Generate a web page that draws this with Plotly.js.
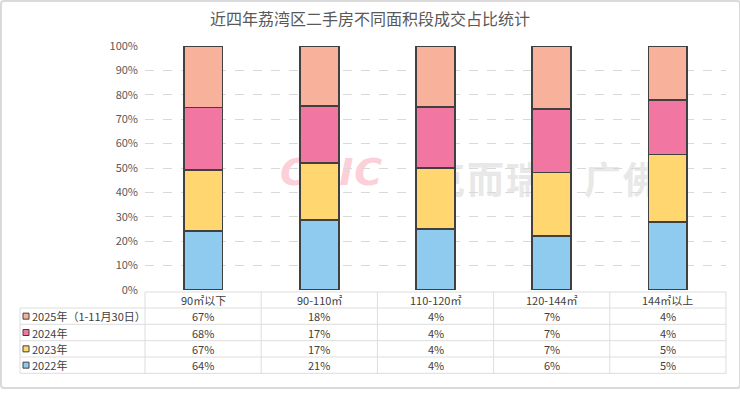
<!DOCTYPE html>
<html>
<head>
<meta charset="utf-8">
<script src="https://cdn.plot.ly/plotly-3.0.1.min.js"></script>
<style>
html,body{margin:0;padding:0;background:#fff;}
#wrap{position:relative;width:740px;height:395px;overflow:hidden;background:#fff;}
#wm{position:absolute;left:0;top:0;width:740px;height:395px;z-index:0;}
#chart{position:absolute;left:0;top:0;width:740px;height:395px;z-index:1;}
#frame{position:absolute;left:0;top:0;width:737px;height:385px;border:2px solid #DADADA;border-radius:4px;z-index:2;pointer-events:none;}
.wm1{position:absolute;left:280px;top:150px;font-family:"DejaVu Sans",sans-serif;font-weight:bold;font-style:italic;font-size:38px;color:#FBD0D8;letter-spacing:1px;}
.wm2{position:absolute;left:428px;top:151px;font-family:"Noto Sans CJK SC",sans-serif;font-weight:bold;font-size:37px;color:#E8E8E8;letter-spacing:2px;}
</style>
</head>
<body>
<div id="wrap">
  <div id="wm"><span class="wm1">CRIC</span><span class="wm2">克而瑞·广佛</span></div>
  <div id="chart"></div>
  <div id="frame"></div>
</div>
<script>
// ---- data ----
var categories = ['90㎡以下', '90-110㎡', '110-120㎡', '120-144㎡', '144㎡以上'];
var seriesNames = ['2022年', '2023年', '2024年', '2025年（1-11月30日）'];
var v2022 = [64, 21, 4, 6, 5];
var v2023 = [67, 17, 4, 7, 5];
var v2024 = [68, 17, 4, 7, 4];
var v2025 = [67, 18, 4, 7, 4];
var yTickVals = [0, 10, 20, 30, 40, 50, 60, 70, 80, 90, 100];
var yTickText = ['0%', '10%', '20%', '30%', '40%', '50%', '60%', '70%', '80%', '90%', '100%'];
var titleText = '近四年荔湾区二手房不同面积段成交占比统计';

// ---- styles ----
var colors = ['#8FCBEE', '#FFD66F', '#F176A1', '#F8B19B'];
var seriesValues = [v2022, v2023, v2024, v2025];

var L = 145, R = 14, T = 46, B = 105, W = 740, H = 395;
var pw = W - L - R, ph = H - T - B;
function px(x) { return (x - L) / pw; }
function py(y) { return (H - B - y) / ph; }

var traces = seriesNames.map(function (n, i) {
  return {
    type: 'bar', name: n, x: categories, y: seriesValues[i],
    width: 0.335,
    marker: { color: colors[i], line: { color: '#404040', width: 1.8 } },
    hoverinfo: 'none'
  };
});

var shapes = [];
var annotations = [];
var lineC = '#DDDDDD';
// table geometry (pixels)
var rowLines = [292, 308, 324.3, 340.7, 357, 373.3];
var colLeft = 20, tabRight = 726;
shapes.push({ type: 'line', xref: 'paper', yref: 'paper', x0: px(L), x1: px(tabRight), y0: py(rowLines[0]), y1: py(rowLines[0]), line: { color: lineC, width: 1 } });
for (var i = 1; i < rowLines.length; i++) {
  shapes.push({ type: 'line', xref: 'paper', yref: 'paper', x0: px(colLeft), x1: px(tabRight), y0: py(rowLines[i]), y1: py(rowLines[i]), line: { color: lineC, width: 1 } });
}
var colW = (tabRight - L) / categories.length;
shapes.push({ type: 'line', xref: 'paper', yref: 'paper', x0: px(colLeft), x1: px(colLeft), y0: py(rowLines[1]), y1: py(rowLines[5]), line: { color: lineC, width: 1 } });
for (var c = 0; c <= categories.length; c++) {
  var xx = L + c * colW;
  shapes.push({ type: 'line', xref: 'paper', yref: 'paper', x0: px(xx), x1: px(xx), y0: py(rowLines[0]), y1: py(rowLines[5]), line: { color: lineC, width: 1 } });
}
var tFont = { family: '"Noto Sans CJK SC", "Noto Sans", sans-serif', size: 11, color: '#404040' };
categories.forEach(function (cat, c) {
  annotations.push({ xref: 'x', yref: 'paper', x: cat, y: py((rowLines[0] + rowLines[1]) / 2), text: cat, showarrow: false, font: tFont, xanchor: 'center', yanchor: 'middle' });
});
for (var r = 0; r < 4; r++) {
  var si = 3 - r;
  var yc = (rowLines[r + 1] + rowLines[r + 2]) / 2;
  shapes.push({ type: 'rect', xref: 'paper', yref: 'paper', x0: px(23), x1: px(29), y0: py(yc + 3), y1: py(yc - 3), fillcolor: colors[si], line: { color: '#404040', width: 1 } });
  annotations.push({ xref: 'paper', yref: 'paper', x: px(29.5), y: py(yc), text: seriesNames[si], showarrow: false, font: tFont, xanchor: 'left', yanchor: 'middle' });
  categories.forEach(function (cat, c) {
    annotations.push({ xref: 'x', yref: 'paper', x: cat, y: py(yc), text: seriesValues[si][c] + '%', showarrow: false, font: tFont, xanchor: 'center', yanchor: 'middle' });
  });
}

var layout = {
  width: W, height: H,
  margin: { l: L, r: R, t: T, b: B, pad: 0 },
  paper_bgcolor: 'rgba(0,0,0,0)', plot_bgcolor: 'rgba(0,0,0,0)',
  font: { family: '"Noto Sans CJK SC", "Noto Sans", sans-serif', color: '#595959' },
  title: { text: titleText, x: 0.5, xref: 'container', xanchor: 'center', y: 1 - 19 / H, yref: 'container', yanchor: 'middle',
           font: { family: '"Noto Sans CJK SC", sans-serif', size: 16, color: '#595959' } },
  barmode: 'stack', barnorm: 'percent',
  showlegend: false,
  xaxis: { type: 'category', showticklabels: false, showgrid: false, zeroline: false, showline: false, ticks: '', fixedrange: true },
  yaxis: { range: [0, 100], tickvals: yTickVals, ticktext: yTickText, showgrid: true, gridcolor: '#D9D9D9', griddash: 'dash', gridwidth: 1,
           zeroline: false, showline: false, ticks: '', ticklabelstandoff: 6,
           tickfont: { family: '"Noto Sans CJK SC", "Noto Sans", sans-serif', size: 11, color: '#595959' }, fixedrange: true },
  shapes: shapes,
  annotations: annotations
};

Plotly.newPlot('chart', traces, layout, { displayModeBar: false, staticPlot: true });
</script>
</body>
</html>
